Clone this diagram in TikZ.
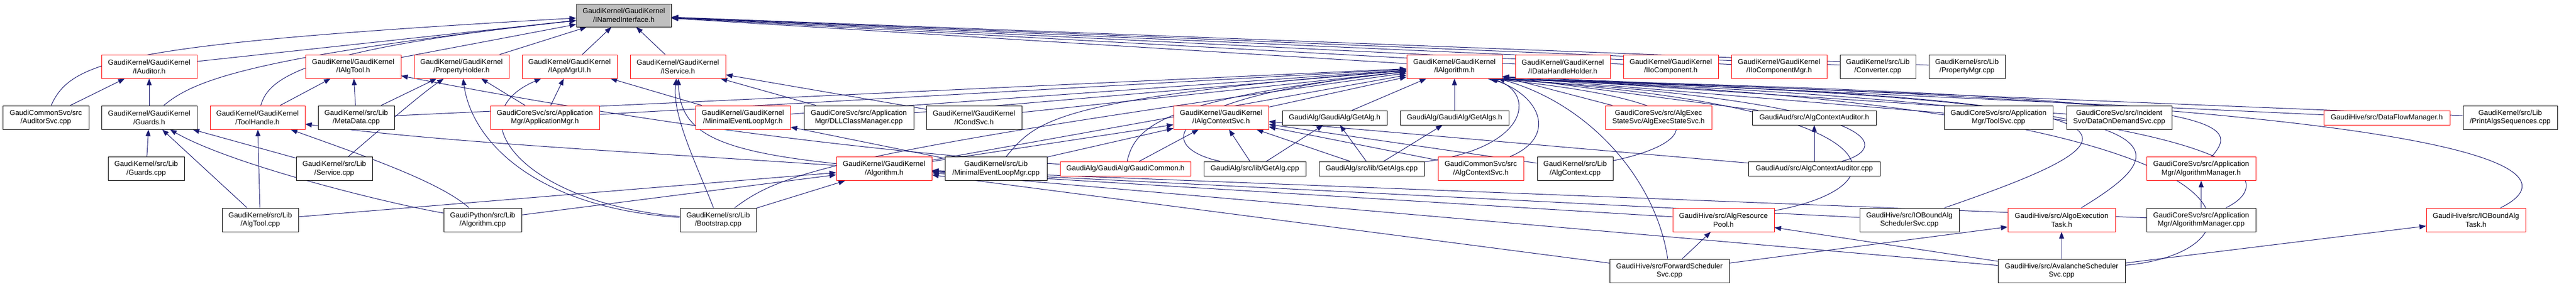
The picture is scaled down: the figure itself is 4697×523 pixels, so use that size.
\documentclass[tikz,border=0pt]{standalone}
\usepackage{fontspec}
\setmainfont{Liberation Sans}
\usetikzlibrary{arrows.meta,backgrounds}
\definecolor{edgec}{RGB}{25,25,112}
\definecolor{nodegray}{RGB}{191,191,191}
\begin{document}
\begin{tikzpicture}[x=0.2mm,y=-0.2mm,
  nd/.style={draw=black, line width=0.2mm, rectangle, align=center, inner sep=0pt,
    font=\fontsize{7.5}{9}\selectfont, text=black, fill=white},
  rb/.style={nd, draw=red},
  bb/.style={nd},
  sz/.style 2 args={minimum width=#1*0.2mm, minimum height=#2*0.2mm},
  e/.style={draw=edgec, line width=0.2mm, -{Triangle[length=2.4mm,width=1.8mm]}},
]
\useasboundingbox (0,0) rectangle (4697,523);
% ---------- nodes ----------
\node[nd, fill=nodegray, sz={173}{42}] (inn) at (1137.5,28) {GaudiKernel/GaudiKernel\\/INamedInterface.h};
% row 1
\node[rb, sz={174}{43}] (iaud) at (272,121.5) {GaudiKernel/GaudiKernel\\/IAuditor.h};
\node[rb, sz={174}{43}] (ialgtool) at (644,121.5) {GaudiKernel/GaudiKernel\\/IAlgTool.h};
\node[rb, sz={173}{43}] (prophold) at (841.5,121.5) {GaudiKernel/GaudiKernel\\/PropertyHolder.h};
\node[rb, sz={173}{43}] (iappmgr) at (1038.5,121.5) {GaudiKernel/GaudiKernel\\/IAppMgrUI.h};
\node[rb, sz={174}{43}] (iserv) at (1236,121.5) {GaudiKernel/GaudiKernel\\/IService.h};
\node[rb, sz={174}{43}] (ialg) at (2652,121.5) {GaudiKernel/GaudiKernel\\/IAlgorithm.h};
\node[rb, sz={173}{43}] (idhh) at (2849.5,121.5) {GaudiKernel/GaudiKernel\\/IDataHandleHolder.h};
\node[rb, sz={173}{43}] (iioc) at (3046.5,121.5) {GaudiKernel/GaudiKernel\\/IIoComponent.h};
\node[rb, sz={174}{43}] (iiocm) at (3244,121.5) {GaudiKernel/GaudiKernel\\/IIoComponentMgr.h};
\node[bb, sz={138}{43}] (conv) at (3424,121.5) {GaudiKernel/src/Lib\\/Converter.cpp};
\node[bb, sz={139}{43}] (propmgr) at (3586.5,121.5) {GaudiKernel/src/Lib\\/PropertyMgr.cpp};
% row 2
\node[bb, sz={157}{43}] (audsvc) at (83.5,214.5) {GaudiCommonSvc/src\\/AuditorSvc.cpp};
\node[bb, sz={174}{43}] (guards) at (272,214.5) {GaudiKernel/GaudiKernel\\/Guards.h};
\node[rb, sz={173}{43}] (toolh) at (469.5,214.5) {GaudiKernel/GaudiKernel\\/ToolHandle.h};
\node[bb, sz={139}{43}] (meta) at (649.5,214.5) {GaudiKernel/src/Lib\\/MetaData.cpp};
\node[rb, sz={199}{43}] (appmgr) at (993.5,214.5) {GaudiCoreSvc/src/Application\\Mgr/ApplicationMgr.h};
\node[rb, sz={173}{43}] (melmh) at (1354.5,214.5) {GaudiKernel/GaudiKernel\\/MinimalEventLoopMgr.h};
\node[bb, sz={200}{43}] (dll) at (1566,214.5) {GaudiCoreSvc/src/Application\\Mgr/DLLClassManager.cpp};
\node[bb, sz={174}{43}] (icond) at (1776,214.5) {GaudiKernel/GaudiKernel\\/ICondSvc.h};
\node[rb, sz={173}{43}] (iactx) at (2226.5,214.5) {GaudiKernel/GaudiKernel\\/IAlgContextSvc.h};
\node[bb, sz={191}{26}] (getalgh) at (2433.5,215) {GaudiAlg/GaudiAlg/GetAlg.h};
\node[bb, sz={198}{26}] (getalgsh) at (2652,215) {GaudiAlg/GaudiAlg/GetAlgs.h};
\node[rb, sz={194}{43}] (execstate) at (3024,214.5) {GaudiCoreSvc/src/AlgExec\\StateSvc/AlgExecStateSvc.h};
\node[bb, sz={226}{26}] (ctxaudh) at (3308,215) {GaudiAud/src/AlgContextAuditor.h};
\node[bb, sz={198}{43}] (toolsvc) at (3644,214.5) {GaudiCoreSvc/src/Application\\Mgr/ToolSvc.cpp};
\node[bb, sz={192}{43}] (dod) at (3864,214.5) {GaudiCoreSvc/src/Incident\\Svc/DataOnDemandSvc.cpp};
\node[rb, sz={230}{26}] (dfm) at (4352,215) {GaudiHive/src/DataFlowManager.h};
\node[bb, sz={172}{43}] (pas) at (4577,214.5) {GaudiKernel/src/Lib\\/PrintAlgsSequences.cpp};
% row 3
\node[bb, sz={139}{43}] (guardscpp) at (266.5,308) {GaudiKernel/src/Lib\\/Guards.cpp};
\node[bb, sz={139}{43}] (servcpp) at (609.5,308) {GaudiKernel/src/Lib\\/Service.cpp};
\node[rb, sz={174}{43}] (algh) at (1612,308) {GaudiKernel/GaudiKernel\\/Algorithm.h};
\node[bb, sz={186}{43}] (melmcpp) at (1816,308) {GaudiKernel/src/Lib\\/MinimalEventLoopMgr.cpp};
\node[rb, sz={238}{26}] (gcommon) at (2052,308) {GaudiAlg/GaudiAlg/GaudiCommon.h};
\node[bb, sz={186}{26}] (getalgcpp) at (2288,308) {GaudiAlg/src/lib/GetAlg.cpp};
\node[bb, sz={192}{26}] (getalgscpp) at (2501,308) {GaudiAlg/src/lib/GetAlgs.cpp};
\node[rb, sz={156}{43}] (ctxsvc) at (2700,308) {GaudiCommonSvc/src\\/AlgContextSvc.h};
\node[bb, sz={138}{43}] (ctxcpp) at (2872,308) {GaudiKernel/src/Lib\\/AlgContext.cpp};
\node[bb, sz={240}{26}] (ctxaudcpp) at (3308,308) {GaudiAud/src/AlgContextAuditor.cpp};
\node[rb, sz={199}{43}] (algmgrh) at (4013.5,308) {GaudiCoreSvc/src/Application\\Mgr/AlgorithmManager.h};
% row 4
\node[bb, sz={139}{43}] (algtoolcpp) at (474.5,401.5) {GaudiKernel/src/Lib\\/AlgTool.cpp};
\node[bb, sz={142}{43}] (pyalgcpp) at (880,401.5) {GaudiPython/src/Lib\\/Algorithm.cpp};
\node[bb, sz={139}{43}] (boot) at (1309.5,401.5) {GaudiKernel/src/Lib\\/Bootstrap.cpp};
\node[rb, sz={185}{43}] (respool) at (3142.5,401.5) {GaudiHive/src/AlgResource\\Pool.h};
\node[bb, sz={181}{43}] (iobsched) at (3481.5,401.5) {GaudiHive/src/IOBoundAlg\\SchedulerSvc.cpp};
\node[rb, sz={196}{43}] (exectask) at (3759,401.5) {GaudiHive/src/AlgoExecution\\Task.h};
\node[bb, sz={199}{43}] (algmgrcpp) at (4013.5,401.5) {GaudiCoreSvc/src/Application\\Mgr/AlgorithmManager.cpp};
\node[rb, sz={181}{43}] (iobtask) at (4514.5,401.5) {GaudiHive/src/IOBoundAlg\\Task.h};
% row 5
\node[bb, sz={218}{43}] (fwd) at (3044,494.5) {GaudiHive/src/ForwardScheduler\\Svc.cpp};
\node[bb, sz={232}{43}] (aval) at (3759,494.5) {GaudiHive/src/AvalancheScheduler\\Svc.cpp};
% ---------- edges ----------
\begin{pgfonlayer}{background}
% INamedInterface
\draw[e] (iaud) -- (inn);
\draw[e] (audsvc) .. controls (130,110) and (220,80) .. (inn);
\draw[e] (guards) .. controls (350,150) and (440,105) .. (inn);
\draw[e] (toolh) .. controls (490,140) and (560,90) .. (inn);
\draw[e] (ialgtool) -- (inn);
\draw[e] (prophold) -- (inn);
\draw[e] (iappmgr) -- (inn);
\draw[e] (iserv) -- (inn);
\draw[e] (ialg) -- (inn);
\draw[e] (idhh) -- (inn);
\draw[e] (iioc) -- (inn);
\draw[e] (iiocm) -- (inn);
\draw[e] (conv) -- (inn);
\draw[e] (propmgr) -- (inn);
% IAuditor
\draw[e] (audsvc) -- (iaud);
\draw[e] (guards) -- (iaud);
% Guards
\draw[e] (guardscpp) -- (guards);
\draw[e] (algtoolcpp) -- (guards);
\draw[e] (pyalgcpp) .. controls (700,370) and (420,300) .. (guards);
\draw[e] (servcpp) -- (guards);
% ToolHandle
\draw[e] (algtoolcpp) -- (toolh);
\draw[e] (algh) .. controls (1200,280) and (800,260) .. (toolh);
\draw[e] (pyalgcpp) .. controls (800,330) and (650,280) .. (toolh);
% IAlgTool
\draw[e] (toolh) -- (ialgtool);
\draw[e] (meta) -- (ialgtool);
\draw[e] (gcommon) .. controls (1500,270) and (1100,210) .. (ialgtool);
% PropertyHolder
\draw[e] (appmgr) -- (prophold);
\draw[e] (servcpp) .. controls (700,230) and (770,170) .. (prophold);
\draw[e] (meta) -- (prophold);
\draw[e] (boot) .. controls (980,380) and (860,260) .. (prophold);
% IAppMgrUI
\draw[e] (appmgr) -- (iappmgr);
\draw[e] (boot) .. controls (950,370) and (830,210) .. (iappmgr);
\draw[e] (melmh) -- (iappmgr);
% IService
\draw[e] (icond) -- (iserv);
\draw[e] (dll) -- (iserv);
\draw[e] (boot) .. controls (1270,300) and (1225,210) .. (iserv);
\draw[e] (algh) .. controls (1300,275) and (1240,240) .. (iserv);
% MinimalEventLoopMgr.h
\draw[e] (melmcpp) -- (melmh);
% Algorithm.h
\draw[e] (boot) -- (algh);
\draw[e] (pyalgcpp) -- (algh);
\draw[e] (algtoolcpp) -- (algh);
\draw[e] (fwd) -- (algh);
\draw[e] (aval) -- (algh);
\draw[e] (respool) -- (algh);
\draw[e] (iobsched) -- (algh);
\draw[e] (algmgrcpp) -- (algh);
% IAlgContextSvc
\draw[e] (algh) -- (iactx);
\draw[e] (melmcpp) -- (iactx);
\draw[e] (gcommon) -- (iactx);
\draw[e] (getalgcpp) -- (iactx);
\draw[e] (getalgscpp) -- (iactx);
\draw[e] (ctxsvc) -- (iactx);
\draw[e] (ctxcpp) -- (iactx);
\draw[e] (ctxaudcpp) -- (iactx);
% GetAlg / GetAlgs
\draw[e] (getalgcpp) -- (getalgh);
\draw[e] (getalgscpp) -- (getalgh);
\draw[e] (getalgscpp) -- (getalgsh);
% others
\draw[e] (ctxaudcpp) -- (ctxaudh);
\draw[e] (algmgrcpp) -- (algmgrh);
\draw[e] (fwd) -- (exectask);
\draw[e] (aval) -- (exectask);
\draw[e] (aval) -- (iobtask);
\draw[e] (fwd) -- (respool);
\draw[e] (aval) -- (respool);
% IAlgorithm
\draw[e] (meta) -- (ialg);
\draw[e] (appmgr) -- (ialg);
\draw[e] (melmh) -- (ialg);
\draw[e] (dll) -- (ialg);
\draw[e] (icond) -- (ialg);
\draw[e] (algh) -- (ialg);
\draw[e] (melmcpp) .. controls (1890,220) and (1920,180) .. (ialg);
\draw[e] (boot) .. controls (1420,320) and (1500,280) .. (ialg);
\draw[e] (gcommon) .. controls (2070,230) and (2120,180) .. (ialg);
\draw[e] (iactx) -- (ialg);
\draw[e] (getalgh) -- (ialg);
\draw[e] (getalgsh) -- (ialg);
\draw[e] (getalgcpp) .. controls (2110,270) and (2100,180) .. (ialg);
\draw[e] (getalgscpp) .. controls (2790,270) and (2800,170) .. (ialg);
\draw[e] (ctxsvc) .. controls (2840,250) and (2810,175) .. (ialg);
\draw[e] (ctxcpp) .. controls (3100,260) and (3150,185) .. (ialg.-20);
\draw[e] (execstate) -- (ialg.-12);
\draw[e] (ctxaudh) -- (ialg.-12);
\draw[e] (ctxaudcpp) .. controls (3450,270) and (3450,185) .. (ialg.-20);
\draw[e] (respool) .. controls (3480,340) and (3470,190) .. (ialg.-20);
\draw[e] (fwd) .. controls (3020,330) and (2900,190) .. (ialg);
\draw[e] (toolsvc) -- (ialg.-12);
\draw[e] (dod) -- (ialg.-12);
\draw[e] (iobsched) .. controls (3950,240) and (3990,180) .. (ialg.-20);
\draw[e] (exectask) .. controls (3990,260) and (4020,180) .. (ialg.-20);
\draw[e] (algmgrh) .. controls (4090,220) and (4070,175) .. (ialg.-20);
\draw[e] (algmgrcpp) .. controls (4160,330) and (4150,190) .. (ialg.-20);
\draw[e] (aval) .. controls (4150,460) and (4200,190) .. (ialg.-20);
\draw[e] (dfm) -- (ialg.-12);
\draw[e] (pas) -- (ialg.-12);
\draw[e] (iobtask) .. controls (4660,330) and (4720,195) .. (ialg.-20);
\end{pgfonlayer}
\end{tikzpicture}
\end{document}
